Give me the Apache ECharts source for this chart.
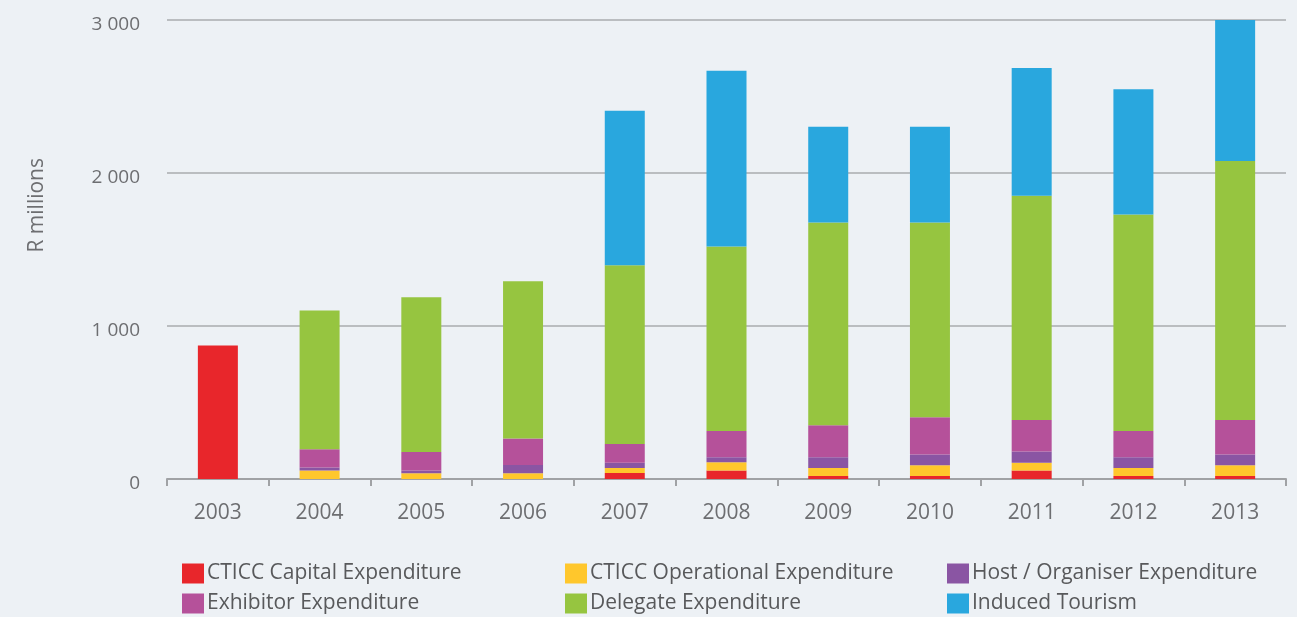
<!DOCTYPE html>
<html>
<head>
<meta charset="utf-8">
<title>CTICC economic impact</title>
<script src="https://cdn.jsdelivr.net/npm/echarts@6/dist/echarts.min.js"></script>
<style>
  html, body { margin: 0; padding: 0; background: #edf1f5; }
  #chart { width: 1297px; height: 617px; }
</style>
</head>
<body>
<div id="chart"></div>
<script>
// years on the x axis
var years = ['2003', '2004', '2005', '2006', '2007', '2008', '2009', '2010', '2011', '2012', '2013']

// R millions
var capital = [873, 0, 0, 0, 39, 55, 20, 20, 55, 20, 20]
var operational = [0, 55, 37, 37, 33, 54, 52, 70, 52, 52, 70]
var host = [0, 20, 18, 55, 35, 33, 70, 70, 72, 70, 70]
var exhibitor = [0, 119, 122, 172, 122, 172, 209, 244, 207, 172, 226]
var delegate = [0, 907, 1011, 1029, 1168, 1206, 1326, 1273, 1465, 1415, 1692]
var induced = [0, 0, 0, 0, 1010, 1148, 625, 625, 835, 818, 922]

var yTicks = [0, 1000, 2000, 3000]

var textColor = '#6d6e71'
var fontFamily = '"Open Sans", sans-serif'

var chart = echarts.init(document.getElementById('chart'))

function bar(name, data, color) {
  return {
    name: name,
    type: 'bar',
    stack: 'total',
    barWidth: 40,
    data: data,
    itemStyle: { color: color },
    emphasis: { disabled: true }
  }
}

// one legend per item so the 3x2 layout sits where the original has it
function legendItem(left, top, name) {
  return {
    left: left,
    top: top,
    padding: 0,
    itemWidth: 22,
    itemHeight: 20,
    icon: 'rect',
    data: [name],
    textStyle: { color: '#58595b', fontSize: 21, fontFamily: fontFamily, padding: [3, 0, 0, -2] }
  }
}

var option = {
  backgroundColor: '#edf1f5',
  animation: false,
  grid: { left: 167, right: 11, top: 20, bottom: 138 },
  legend: [
    legendItem(182, 563, 'CTICC Capital Expenditure'),
    legendItem(182, 593, 'Exhibitor Expenditure'),
    legendItem(565, 563, 'CTICC Operational Expenditure'),
    legendItem(565, 593, 'Delegate Expenditure'),
    legendItem(947, 563, 'Host / Organiser Expenditure'),
    legendItem(947, 593, 'Induced Tourism')
  ],
  graphic: [{
    type: 'text',
    left: 27,
    top: 158,
    rotation: Math.PI / 2,
    style: { text: 'R millions', fill: textColor, font: '21px "Open Sans", sans-serif' }
  }],
  xAxis: {
    type: 'category',
    data: years,
    axisLine: { lineStyle: { color: '#a0a2a5', width: 2 } },
    axisTick: { show: true, length: 7, lineStyle: { color: '#a0a2a5', width: 2 } },
    axisLabel: { color: textColor, fontSize: 21, fontFamily: fontFamily, margin: 24 }
  },
  yAxis: {
    type: 'value',
    min: yTicks[0],
    max: yTicks[yTicks.length - 1],
    interval: 1000,
    axisLine: { show: false },
    axisTick: { show: false },
    splitLine: { lineStyle: { color: '#a9abae', width: 1.5 } },
    axisLabel: {
      color: textColor,
      fontSize: 19,
      fontFamily: fontFamily,
      margin: 27,
      verticalAlign: 'top',
      lineHeight: 9,
      formatter: function (v) {
        return String(v).replace(/\B(?=(\d{3})+(?!\d))/g, ' ')
      }
    }
  },
  series: [
    bar('CTICC Capital Expenditure', capital, '#e8262b'),
    bar('CTICC Operational Expenditure', operational, '#ffc72c'),
    bar('Host / Organiser Expenditure', host, '#8a55a3'),
    bar('Exhibitor Expenditure', exhibitor, '#b5519a'),
    bar('Delegate Expenditure', delegate, '#96c540'),
    bar('Induced Tourism', induced, '#29a7de')
  ]
}

chart.setOption(option)
</script>
</body>
</html>
